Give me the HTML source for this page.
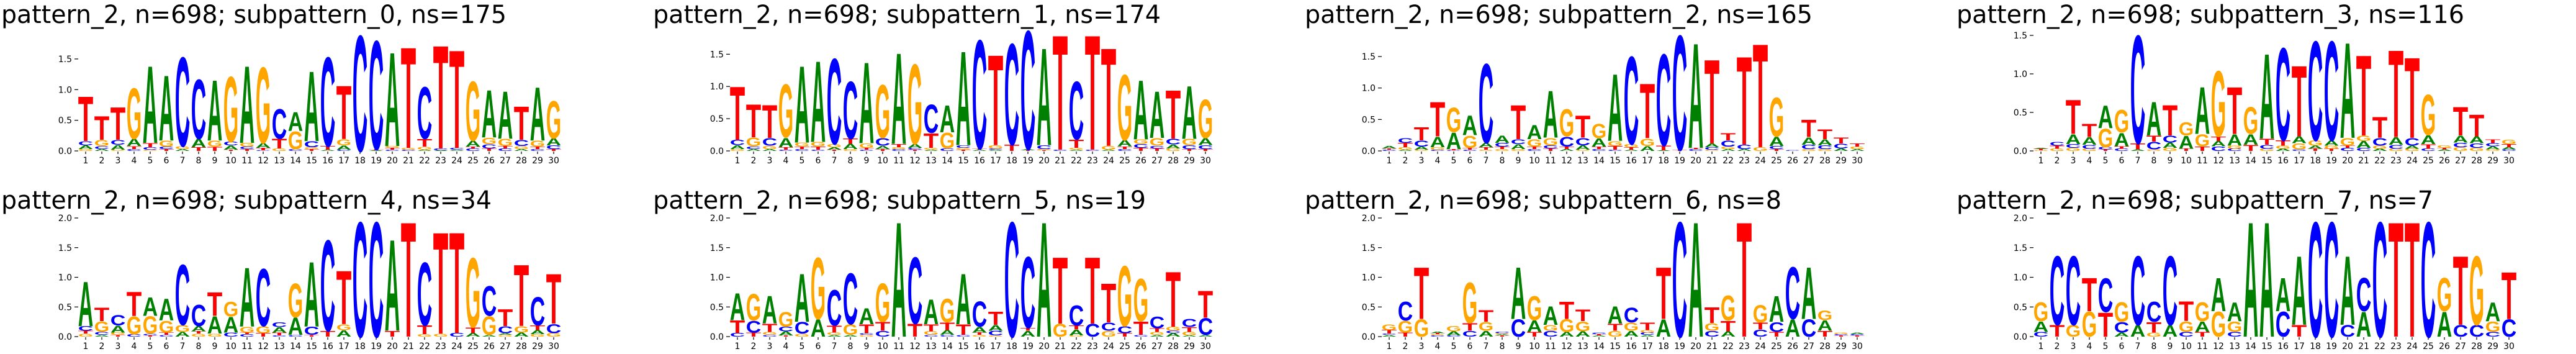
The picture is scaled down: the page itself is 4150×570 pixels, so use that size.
<!DOCTYPE html>
<html><head><meta charset="utf-8">
<style>
html,body{margin:0;padding:0;background:#fff;overflow:hidden;width:4150px;height:570px;}
svg{display:block;overflow:hidden;}
</style></head>
<body>
<svg id="chart" xmlns="http://www.w3.org/2000/svg" width="4150" height="570" viewBox="0 0 4150 570"></svg>
<script>
// Data: per panel, positions separated by spaces; stack bottom-to-top "Letter+height"
const titles = [
 "pattern_2, n=698; subpattern_0, ns=175","pattern_2, n=698; subpattern_1, ns=174",
 "pattern_2, n=698; subpattern_2, ns=165","pattern_2, n=698; subpattern_3, ns=116",
 "pattern_2, n=698; subpattern_4, ns=34","pattern_2, n=698; subpattern_5, ns=19",
 "pattern_2, n=698; subpattern_6, ns=8","pattern_2, n=698; subpattern_7, ns=7"];
const yMax = [1.955,1.86,1.905,1.556,2.0,2.0,2.0,2.0];
const yTicks = [0,0.5,1.0,1.5,2.0];
const yTickLabels = ["0.0","0.5","1.0","1.5","2.0"];
const positions = [1,2,3,4,5,6,7,8,9,10,11,12,13,14,15,16,17,18,19,20,21,22,23,24,25,26,27,28,29,30];
const logo0 = "G.03,A.06,C.07,T.75 A.03,C.05,G.1,T.4 G.02,A.08,C.08,T.55 C.03,T.05,A.12,G.85 G.02,C.04,T.07,A1.3 T.03,C.04,G.1,A1.1 A.03,G.05,C1.5 T.06,A.14,C1.0 T.07,G.1,A1.02 T.02,A.07,C.06,G1.1 T.03,C.04,G.06,A1.3 C.01,T.04,A.08,G1.28 G.04,T.16,C.5 C.03,G.3,A.32 T.03,G.03,C.1,A1.18 A.02,T.06,C1.5 C.02,A.07,G.1,T.9 C1.95 A.01,T.02,C1.83 C.02,T.03,G.03,A1.58 C.02,G.03,T1.7 A.02,G.05,T.13,C.87 A.01,C.03,T1.74 A.02,C.03,T1.65 C.04,T.03,A.1,G1.0 T.04,C.07,G.11,A.8 C.04,T.04,G.12,A.8 A.03,G.05,C.1,T.56 C.03,T.04,G.1,A.9 T.03,C.06,A.12,G.63";
const logo1 = "G.03,A.06,C.08,T.86 A.03,C.04,G.14,T.53 A.03,G.05,C.12,T.53 C.02,T.04,A.15,G.85 C.03,T.04,G.06,A1.23 C.02,T.05,G.07,A1.3 T.02,A.04,G.05,C1.37 G.03,A.08,T.08,C.92 C.02,T.03,G.07,A1.3 T.03,A.05,C.12,G.85 C.03,G.03,T.05,A1.46 T.02,C.03,A.06,G1.28 A.02,G.03,T.23,C.46 C.04,G.25,A.43 T.02,G.03,C.04,A1.51 A.02,T.02,C1.74 A.02,C.02,G.05,T1.45 T.1,C1.62 T.01,A.02,C1.9 T.01,G.02,C.06,A1.56 C.02,T1.84 A.02,G.03,T.13,C.93 C.02,T1.84 A.02,G.06,T1.57 C.03,T.04,A.1,G1.05 T.05,C.06,G.07,A.95 T.04,C.04,G.12,A.75 G.04,A.06,C.09,T.78 T.03,C.06,G.1,A.85 T.03,C.06,A.11,G.62";
const logo2 = "C.02,T.02,A.04 A.02,G.04,T.07,C.08 G.02,A.05,C.1,T.22 C.02,G.04,A.17,T.57 C.01,T.02,A.27,G.4 C.02,T.03,G.2,A.32 G.02,T.04,A.07,C1.3 G.03,T.04,C.06,A.12 G.03,A.08,C.08,T.56 C.03,T.04,G.12,A.23 T.04,C.05,G.12,A.77 A.03,T.04,C.16,G.45 G.02,A.07,C.12,T.36 C.03,T.04,A.13,G.24 C.02,T.06,G.08,A1.1 A.02,T.04,G.05,C1.44 A.08,G.12,T.9 A.01,T.08,C1.5 T.02,C1.88 C.03,T.02,A1.72 G.02,C.04,A.06,T1.38 A.03,G.04,C.1,T.12 A.03,C.07,T1.45 G.06,T1.7 T.03,C.05,A.15,G.64 C.01 G.03,C.07,A.12,T.28 G.03,C.06,A.1,T.16 A.04,C.08,T.1 A.03,G.04,T.05";
const logo3 = "G.01,T.02,A.01 G.03,T.04,C.05 G.04,C.05,A.13,T.46 G.03,C.05,A.1,T.18 T.02,C.03,G.25,A.3 C.03,T.03,A.18,G.3 A.02,T.08,C1.45 G.02,C.1,T.08,A.45 G.04,A.07,C.09,T.41 T.03,A.17,G.18 T.06,G.16,A.63 C.06,A.07,T.06,G.88 C.03,G.04,A.15,T.63 T.08,A.14,G.36 G.03,C.05,T.08,A1.14 A.03,G.04,T.07,C1.24 C.02,G.08,A.09,T.95 T.03,A.04,G.07,C1.33 T.03,G.04,A.07,C1.33 C.04,T.03,G.1,A1.28 C.04,A.09,G.07,T1.08 A.03,G.04,C.1,T.28 G.03,C.05,A.1,T1.17 G.03,A.04,C.1,T1.08 C.03,T.06,A.12,G.54 A.02,T.02,G.03 G.05,C.06,A.09,T.38 G.04,C.06,A.09,T.29 G.02,A.04,C.04,T.05 C.02,A.03,T.04,G.06";
const logo4 = "G.05,T.05,C.08,A.78 A.03,C.05,G.18,T.24 T.03,G.04,A.12,C.18 C.04,G.31,T.42 T.02,C.03,G.3,A.32 C.03,T.04,G.2,A.38 A.08,G.12,C1.05 G.05,T.04,A.09,C.37 G.05,A.3,T.41 C.07,A.27,G.26 C.04,T.03,G.1,A1.03 T.06,G.12,C1.0 C.02,T.05,A.09,C.08 C.03,A.3,G.59 T.03,C.14,A1.13 T.1,C1.58 A.11,G.1,T.93 C2.0 C2.0 T.1,A1.59 T2.0 G.04,T.15,C1.1 G.05,T1.77 C.06,T1.76 A.06,T.1,G1.21 A.03,G.32,C.52 G.03,A.03,C.12,T.29 A.07,G.11,T1.07 G.04,A.07,T.08,C.5 G.06,C.16,T.87";
const logo5 = "C.06,T.22,A.47 T.07,C.2,G.46 C.03,G.05,T.14,A.48 T.02,A.07,C.08,G.26 G.05,C.2,A.84 A.3,G1.07 A.03,G.04,T.12,C.62 A.03,G.18,C.89 G.03,C.03,T.15,A.28 C.1,T.15,G.67 A2.0 T.22,C1.16 C.03,G.06,T.12,A.43 C.03,A.08,T.13,G.41 C.03,T.18,A.88 G.03,T.04,A.1,C.44 G.02,C.08,A.1,T.23 C2.0 A.1,T.05,C1.24 A2.0 G.22,T1.16 G.02,A.1,T.07,C.35 C.22,T1.16 G.1,C.14,T.68 T.06,C.12,G1.05 C.03,T.23,G.74 A.03,G.05,T.06,C.2 A.06,C.04,G.07,T.96 A.02,G.06,T.08,C.14 A.03,C.29,T.47";
const logo6 = "A.03,C.02,T.06,G.1 T.07,G.2,C.33 G.3,T.9 C.02,G.02,T.02,A.03 C.02,A.07,G.09 C.1,T.13,G.71 A.1,G.15,T.2 T.02,A.02,G.02,C.03 C.3,A.9 T.08,A.2,G.42 C.1,G.1,A.32 A.08,G.22,T.3 A.09,G.17,T.2 A.02,T.02,C.03 G.1,T.12,A.3 A.1,G.14,C.26 A.03,C.04,G.04,T.13 A.3,T.9 C2.0 A2.0 C.1,G.13,T.27 A.09,T.18,G.43 T2.0 C.12,T.12,G.3 T.08,C.17,A.45 A.3,C.9 C.3,A.9 T.1,A.18,G.17 T.02,C.02,G.03 T.02,C.02,A.03";
const logo7 = "C.08,A.18,G.33 T.2,C1.2 G.2,C1.2 G.43,T.58 T.42,C.59 A.07,C.18,G.34 A.2,C1.2 G.07,T.18,C.35 A.2,C1.2 C.08,G.18,T.34 T.08,A.18,G.33 G.43,A.58 C.08,G.18,A.33 A2.0 A2.0 C.43,A.58 T.2,A1.2 C2.0 C2.0 C.2,A1.2 A.43,C.58 C2.0 T2.0 T2.0 C2.0 A.43,G.58 C.2,T1.2 C.2,G1.2 C.08,G.18,A.33 C.3,T.82";
const logos = [logo0,logo1,logo2,logo3,logo4,logo5,logo6,logo7];

const NS = "http://www.w3.org/2000/svg";
const colors = {A:"#008000",C:"#0000ff",G:"#ffa500",T:"#ff0000"};
const svg = document.getElementById("chart");
const colX = [138,1188,2238,3288];
const rowBase = [243,542], rowTop = [50,351], rowTitleY = [37,336];
const titleW = [814,818,818,818,790,794,768,768];
function mk(tag, attrs, parent){const e=document.createElementNS(NS,tag);for(const k in attrs)e.setAttribute(k,attrs[k]);(parent||svg).appendChild(e);return e;}

logos.forEach((str, p) => {
  const row = Math.floor(p/4), col = p%4;
  const x0 = colX[col], base = rowBase[row], top = rowTop[row];
  const g = mk("g", {});
  
  
  const yS = v => base - v * (base - top) / yMax[p];
  const xS = i => x0 + (i - 1) * 26;
  const t = mk("text", {x: x0 - 136, y: rowTitleY[row], "font-family": "DejaVu Sans, sans-serif", "font-size": 40, textLength: titleW[p], lengthAdjust: "spacingAndGlyphs", fill: "#000"}, g);
  t.textContent = titles[p];
  
  
  yTicks.forEach((v, k) => {
    if (v > yMax[p] + 0.001) return;
    const y = yS(v);
    mk("line", {x1: x0 - 18, x2: x0 - 12, y1: y, y2: y, stroke: "#000", "stroke-width": 1.2}, g);
    const lt = mk("text", {x: x0 - 22, y: y + 5, "font-family": "DejaVu Sans, sans-serif", "font-size": 14, "text-anchor": "end", fill: "#000"}, g);
    lt.textContent = yTickLabels[k];
    
    
  });
  positions.forEach(i => {
    const x = xS(i);
    mk("line", {x1: x, x2: x, y1: base + 1, y2: base + 5, stroke: "#000", "stroke-width": 1.2}, g);
    const xt = mk("text", {x: x, y: base + 20, "font-family": "DejaVu Sans, sans-serif", "font-size": 14, "text-anchor": "middle", fill: "#000"}, g);
    xt.textContent = String(i);
    
    
  });
  str.split(" ").forEach((posStr, idx) => {
    const cx = xS(idx + 1);
    let cum = 0;
    posStr.split(",").forEach(tok => {
      const L = tok[0], h = parseFloat(tok.slice(1));
      const yb = yS(cum), yt = yS(cum + h);
      cum += h;
      const hp = yb - yt;
      if (hp < 0.6) return;
      const w = 24.5;
      const lt = mk("text", {transform: `translate(${cx - w/2},${yb}) scale(${w/68},${hp/72})`, "font-family": "Liberation Sans, sans-serif", "font-weight": "bold", "font-size": 100, textLength: 68, lengthAdjust: "spacingAndGlyphs", fill: colors[L]}, g);
      lt.textContent = L;
      
      
    });
  });
});
</script>
</body></html>
